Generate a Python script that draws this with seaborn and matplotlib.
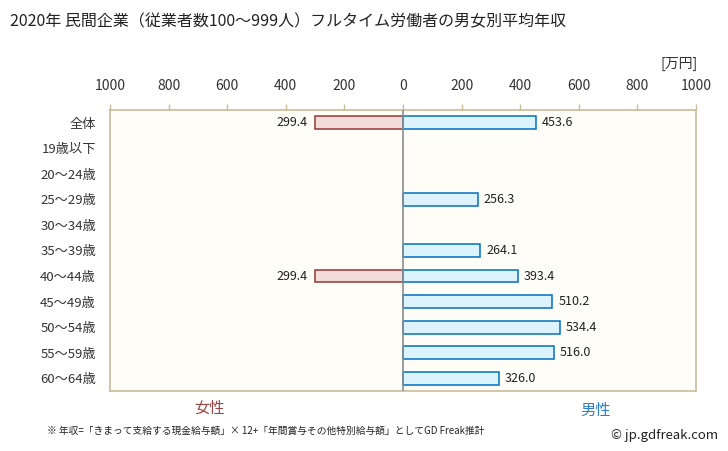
import numpy as np
import pandas as pd
import matplotlib
matplotlib.use('Agg')
import matplotlib.pyplot as plt
import seaborn as sns

categories = ['全体', '19歳以下', '20～24歳', '25～29歳', '30～34歳', '35～39歳',
              '40～44歳', '45～49歳', '50～54歳', '55～59歳', '60～64歳']
female = [299.4, np.nan, np.nan, np.nan, np.nan, np.nan, 299.4, np.nan, np.nan, np.nan, np.nan]
male = [453.6, np.nan, np.nan, 256.3, np.nan, 264.1, 393.4, 510.2, 534.4, 516.0, 326.0]
tick_values = [-1000, -800, -600, -400, -200, 0, 200, 400, 600, 800, 1000]

sns.set_theme(style='white')
plt.rcParams['font.family'] = ['Noto Sans CJK JP', 'DejaVu Sans']

df = pd.DataFrame({'age': categories, 'female': female, 'male': male})
df['female_neg'] = -df['female']

fig = plt.figure(figsize=(7.28, 4.51), dpi=100)
ax = fig.add_axes([110 / 728, 1 - 391 / 451, 586 / 728, 281 / 451])
ax.set_facecolor('#fefdf8')

# women to the left, men to the right
sns.barplot(data=df, y='age', x='female_neg', orient='h', order=categories, width=0.5,
            color='#f2dcdb', edgecolor='#953735', linewidth=1.1, saturation=1, ax=ax)
sns.barplot(data=df, y='age', x='male', orient='h', order=categories, width=0.5,
            color='#dcf3fd', edgecolor='#0070c0', linewidth=1.1, saturation=1, ax=ax)

ax.set_xlim(-1000, 1000)
ax.set_ylim(len(categories) - 0.5, -0.5)
ax.axvline(0, color='#8c8c8c', linewidth=1.2, zorder=5)

for i, (f, m) in enumerate(zip(female, male)):
    if not np.isnan(f):
        ax.text(-f - 25, i, f'{f:.1f}', ha='right', va='center', fontsize=9, color='#222222')
    if not np.isnan(m):
        ax.text(m + 20, i, f'{m:.1f}', ha='left', va='center', fontsize=9, color='#222222')

ax.xaxis.tick_top()
ax.set_xticks(tick_values)
ax.set_xticklabels([str(abs(v)) for v in tick_values], fontsize=10, color='#333333')
ax.tick_params(axis='x', which='major', length=4, width=1, color='#c8bd98', pad=8, top=True, bottom=False)
ax.tick_params(axis='y', length=0, labelsize=9.5, labelcolor='#333333', pad=10)
ax.set_xlabel('')
ax.set_ylabel('')
for s in ax.spines.values():
    s.set_color('#c8bd98')
    s.set_linewidth(1.2)

fig.text(10 / 728, 1 - 22 / 451, '2020年 民間企業（従業者数100～999人）フルタイム労働者の男女別平均年収',
         fontsize=11.5, ha='left', va='center', color='#222222')
fig.text(698 / 728, 1 - 64 / 451, '[万円]', fontsize=10, ha='right', va='center', color='#333333')
fig.text(210 / 728, 1 - 408 / 451, '女性', fontsize=11, ha='center', va='center', color='#a04545')
fig.text(596 / 728, 1 - 410 / 451, '男性', fontsize=11, ha='center', va='center', color='#2e80c8')
fig.text(47 / 728, 1 - 431 / 451,
         '※ 年収=「きまって支給する現金給与額」× 12+「年間賞与その他特別給与額」としてGD Freak推計',
         fontsize=7, ha='left', va='center', color='#222222')
fig.text(718 / 728, 1 - 435 / 451, '© jp.gdfreak.com', fontsize=9.5, ha='right', va='center',
         color='#222222')

fig.savefig('out.png', dpi=100)
